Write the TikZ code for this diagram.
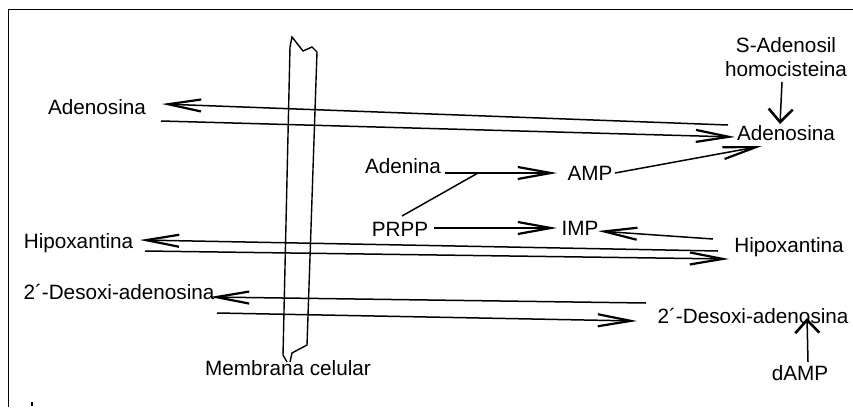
\documentclass[tikz,border=0pt]{standalone}
\usepackage{fontspec}
\setmainfont{Liberation Sans}
\usetikzlibrary{arrows.meta}
\begin{document}
\begin{tikzpicture}[x=1pt,y=-1pt,
  lbl/.style={inner sep=0pt,font=\fontsize{20.7}{24}\selectfont},
  flow/.style={line width=1.5pt,-{Straight Barb[length=33pt,width=12pt,line width=2.2pt]}},
  vflow/.style={line width=1.5pt,-{Straight Barb[length=13pt,width=24pt,line width=2.6pt]}},
  plain/.style={line width=1.5pt}]
\useasboundingbox (0,0) rectangle (853,407);
% frame
\draw[line width=1.6pt] (8.5,407) -- (8.5,9.5) -- (853,9.5);
\fill (31,402) rectangle (33,406);

% cell membrane
\draw[line width=1.4pt] (283,355) -- (290,47) -- (292,37) -- (303,51) -- (312,47) -- (317,52)
  -- (307,345) -- (292,353) -- (290,362);
\draw[line width=1.4pt] (283,355) -- (287,362);

% labels
\node[lbl] (adoL) at (97,107) {Adenosina};
\node[lbl] (adoR) at (786,133) {Adenosina};
\node[lbl,align=center] (sah) at (786,57) {S-Adenosil\\homocisteina};
\node[lbl] (ade) at (403,166) {Adenina};
\node[lbl] (amp) at (590,173) {AMP};
\node[lbl] (prpp) at (400,229) {PRPP};
\node[lbl] (imp) at (580,228) {IMP};
\node[lbl] (hxL) at (78.5,243) {Hipoxantina};
\node[lbl] (hxR) at (789,247) {Hipoxantina};
\node[lbl] (dadoL) at (119,292) {2´-Desoxi-adenosina};
\node[lbl] (dadoR) at (753,316) {2´-Desoxi-adenosina};
\node[lbl] (damp) at (800,373) {dAMP};
\node[lbl] (memb) at (288,368) {Membrana celular};

% connector ends
\coordinate (a1s) at (728,125);  \coordinate (a1e) at (162,104);
\coordinate (a2s) at (161,121);  \coordinate (a2e) at (735,137);
\coordinate (sahs) at (782,82);  \coordinate (sahe) at (780,124);
\coordinate (ades) at (445,173); \coordinate (join) at (478,173);
\coordinate (ampe) at (557,173);
\coordinate (prpps) at (402,216);
\coordinate (ampo) at (615,173); \coordinate (ampt) at (762,146);
\coordinate (pis) at (434,228);  \coordinate (pie) at (557,228);
\coordinate (his) at (713,239);  \coordinate (hie) at (598,231);
\coordinate (h1s) at (718,251);  \coordinate (h1e) at (140,240);
\coordinate (h2s) at (145,251);  \coordinate (h2e) at (729,259);
\coordinate (d1s) at (646,303);  \coordinate (d1e) at (210,297);
\coordinate (d2s) at (217,313);  \coordinate (d2e) at (637,321);
\coordinate (dms) at (808,362);  \coordinate (dme) at (807,318);

% transport across the membrane
\draw[flow] (a1s) -- (a1e);
\draw[flow] (a2s) -- (a2e);
\draw[flow] (h1s) -- (h1e);
\draw[flow] (h2s) -- (h2e);
\draw[flow] (d1s) -- (d1e);
\draw[flow] (d2s) -- (d2e);

% intracellular reactions
\draw[vflow] (sahs) -- (sahe);
\draw[plain] (prpps) -- (join);
\draw[flow] (ades) -- (ampe);
\draw[flow] (ampo) -- (ampt);
\draw[flow] (pis) -- (pie);
\draw[flow] (his) -- (hie);
\draw[vflow] (dms) -- (dme);
\end{tikzpicture}
\end{document}
